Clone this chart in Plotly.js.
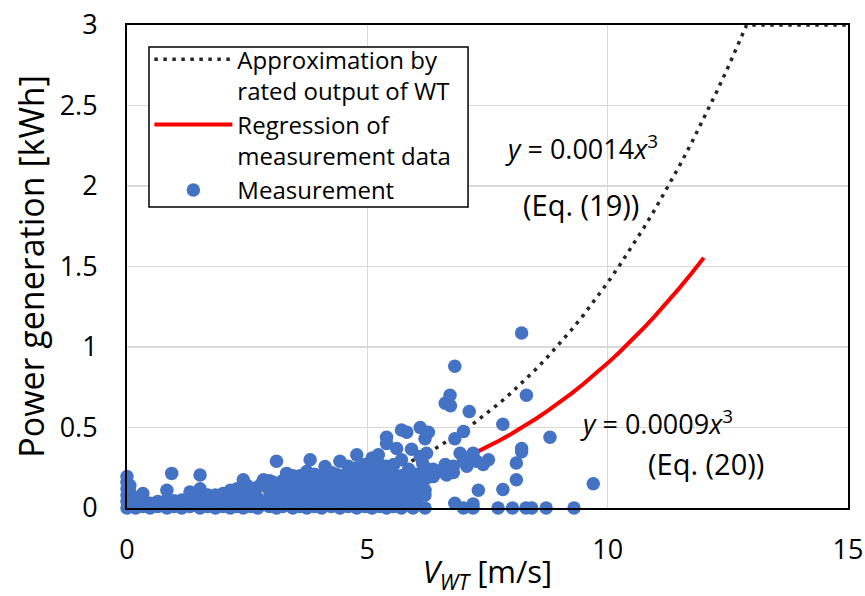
<!DOCTYPE html>
<html>
<head>
<meta charset="utf-8">
<script src="https://cdn.plot.ly/plotly-3.0.1.min.js"></script>
<style>html,body{margin:0;padding:0;background:#fff;}#chart{width:865px;height:596px;}</style>
</head>
<body>
<div id="chart"></div>
<script>
// Measured data (wind speed V_WT [m/s], power generation [kWh])
var measX = [
 0,0,0,0,0,0, 0.06,0.06,0.06,0.06, 0.18,0.18,0.18, 0.33,0.33,0.33, 0.48,0.48, 0.64,0.64,
 0.83,0.83,0.83, 0.93, 0.98,0.98, 1.14,1.14, 1.31,1.31,1.31, 1.52,1.52,1.52,1.52,
 1.68,1.68,1.68, 1.84,1.84,1.84, 2.0,2.0,2.0, 2.15,2.15,2.15, 2.29,2.29,2.29,
 2.42,2.42,2.42,2.42, 2.58,2.58,2.58, 2.72,2.72,2.72, 2.84, 2.96,2.96,2.96,2.96,
 3.11,3.11,3.11,3.11,3.11, 3.24,3.24,3.24,3.24, 3.32, 3.45,3.45,3.45,3.45,3.45,
 3.6,3.6,3.6,3.6,3.6, 3.74,3.74,3.74,3.74,3.74, 3.81, 3.9,3.9,3.9,3.9,3.9,
 4.05,4.05,4.05,4.05,4.05, 4.12, 4.25,4.25,4.25,4.25,4.25, 4.43,4.43,4.43,4.43,4.43,4.43,
 4.6,4.6,4.6,4.6,4.6,4.6, 4.78,4.78,4.78,4.78,4.78,4.78,4.78, 4.95,4.95,4.95,4.95,4.95,4.95,
 5.1,5.1,5.1,5.1,5.1,5.1,5.1, 5.23, 5.26,5.26,5.26,5.26,5.26,5.26,
 5.4,5.4,5.4,5.4,5.4,5.4,5.4,5.4, 5.55,5.55,5.55,5.55,5.55,5.55, 5.61,
 5.71,5.71,5.71,5.71,5.71,5.71,5.71, 5.82,5.82, 5.86,5.86,5.86,5.86, 5.92, 5.95,5.95,
 6.02,6.02,6.02, 6.1,6.1, 6.15,6.15, 6.2,6.2,6.2,6.2,6.2, 6.23, 6.25, 6.27, 6.37,6.37, 6.44,
 6.58, 6.62,6.62, 6.65, 6.72, 6.73, 6.79,6.79, 6.82,6.82,6.82, 6.93, 7.0,7.0,7.0, 7.07, 7.12,
 7.2,7.2,7.2, 7.27, 7.31, 7.41, 7.52, 7.72, 7.82,7.82, 8.02, 8.1,8.1, 8.21,8.21,8.21,
 8.3, 8.31, 8.42, 8.72, 8.8, 9.3, 9.7,
 0.4,0.56,0.72,0.9,1.06,1.22,1.4,1.6,1.76,1.92,2.08,2.22,2.36,2.5,2.65,2.8,2.9,3.04,3.18,3.38,
 3.52,3.67,3.83,3.98,4.18,4.35,4.52,4.7,4.87,5.03,5.18,5.33,5.48,5.64,5.78,
 2.5,2.8,3.04,3.52,3.98,4.35,4.7,5.03,5.33
];
var measY = [
 0,0.04,0.08,0.12,0.16,0.195, 0.02,0.06,0.10,0.14, 0,0.03,0.06, 0.01,0.05,0.09, 0,0.03, 0.01,0.04,
 0,0.05,0.11, 0.215, 0.01,0.045, 0,0.05, 0.01,0.05,0.10, 0,0.06,0.12,0.205,
 0.01,0.05,0.08, 0,0.04,0.08, 0.01,0.05,0.09, 0,0.06,0.11, 0.01,0.06,0.12,
 0,0.05,0.1,0.175, 0.01,0.06,0.12, 0,0.06,0.13, 0.175, 0.01,0.06,0.11,0.17,
 0,0.05,0.1,0.15,0.29, 0.01,0.06,0.11,0.17, 0.215, 0,0.05,0.1,0.15,0.2,
 0.01,0.06,0.11,0.16,0.2, 0,0.05,0.1,0.15,0.226, 0.3, 0.01,0.06,0.11,0.16,0.21,
 0,0.05,0.1,0.15,0.2, 0.257, 0.01,0.06,0.11,0.16,0.22, 0,0.05,0.1,0.15,0.2,0.29,
 0.01,0.06,0.11,0.16,0.21,0.26, 0,0.05,0.1,0.15,0.2,0.25,0.33, 0.01,0.06,0.11,0.16,0.21,0.27,
 0,0.05,0.1,0.15,0.2,0.25,0.31, 0.33, 0.01,0.06,0.11,0.16,0.22,0.27,
 0,0.05,0.1,0.15,0.2,0.26,0.4,0.44, 0.01,0.06,0.11,0.16,0.21,0.27, 0.37,
 0,0.05,0.1,0.15,0.2,0.3,0.485, 0.02,0.47, 0.06,0.13,0.19,0.24, 0.365, 0,0.1,
 0.04,0.16,0.21, 0.5,0.32, 0.15,0.28, 0.43,0.25,0.11,0.08,0, 0.34, 0.19, 0.47, 0.195,0.24, 0.22,
 0.24, 0.65,0.27, 0.205, 0.70, 0.635, 0.22,0.26, 0.88,0.43,0.03, 0.34, 0.475,0.30,0, 0.26, 0.60,
 0.34,0.025,0, 0.29, 0.11, 0.27, 0.30, 0, 0.52,0.115, 0, 0.28,0.175, 1.087,0.37,0.35,
 0, 0.70, 0, 0, 0.44, 0, 0.15,
 0.02,0.02,0.03,0.03,0.03,0.03,0.04,0.04,0.03,0.04,0.04,0.03,0.04,0.03,0.04,0.03,0.04,0.03,0.04,0.03,
 0.04,0.03,0.04,0.03,0.04,0.03,0.04,0.03,0.04,0.03,0.04,0.03,0.04,0.03,0.04,
 0.14,0.15,0.16,0.18,0.19,0.21,0.23,0.25,0.24
];
// Approximation by rated output of WT (Eq. 19)
var approxX = [5.75,6.0,6.25,6.5,6.75,7.0,7.25,7.5,7.75,8.0,8.25,8.5,8.75,9.0,9.25,9.5,9.75,10.0,
 10.25,10.5,10.75,11.0,11.25,11.5,11.75,12.0,12.25,12.5,12.75,12.89,15];
var approxY = [0.266,0.302,0.342,0.385,0.431,0.480,0.534,0.591,0.652,0.717,0.786,0.860,0.938,1.021,
 1.108,1.200,1.298,1.400,1.508,1.621,1.739,1.863,1.993,2.129,2.271,2.419,2.574,2.734,2.902,3.0,3.0];
var regX = [7.2,7.5,7.75,8.0,8.25,8.5,8.75,9.0,9.25,9.5,9.75,10,10.25,10.5,10.75,11,11.25,11.5,11.75,12];
var regY = [0.336,0.380,0.419,0.461,0.505,0.553,0.603,0.656,0.712,0.772,0.834,0.900,0.969,1.042,
 1.118,1.198,1.281,1.369,1.460,1.555];
var xTicks = [0,5,10,15];
var yTicks = [0,0.5,1,1.5,2,2.5,3];

var FONT = '"Open Sans", "Noto Sans", sans-serif';

var traces = [
 {x: approxX, y: approxY, type: 'scatter', mode: 'lines',
  name: 'Approximation by<br>rated output of WT',
  line: {color: '#262626', width: 3.5, dash: '3.5px,5.5px'}},
 {x: regX, y: regY, type: 'scatter', mode: 'lines',
  name: 'Regression of<br>measurement data',
  line: {color: '#ff0000', width: 4}},
 {x: measX, y: measY, type: 'scatter', mode: 'markers',
  name: 'Measurement',
  marker: {color: '#4472c4', size: 13.5}, cliponaxis: false}
];

var layout = {
 width: 865, height: 596,
 margin: {l: 127, r: 17, t: 25, b: 88},
 paper_bgcolor: '#fff', plot_bgcolor: '#fff',
 font: {family: FONT, color: '#000', size: 26},
 showlegend: true,
 legend: {x: 0.031, y: 0.975, xanchor: 'left', yanchor: 'top',
  bgcolor: 'rgba(0,0,0,0)', borderwidth: 0, itemwidth: 78,
  font: {family: FONT, size: 24, color: '#000'}, valign: 'top', tracegroupgap: 0},
 shapes: [
  {type: 'rect', xref: 'paper', yref: 'paper', x0: 0.0305, x1: 0.4730, y0: 0.6232, y1: 0.9545,
   fillcolor: '#fff', line: {color: '#000', width: 1.5}, layer: 'above'}
 ],
 xaxis: {range: [0, 15], tickvals: xTicks, ticktext: xTicks.map(String),
  showgrid: true, gridcolor: '#d9d9d9', gridwidth: 1.5, zeroline: false,
  showline: true, linecolor: '#000', linewidth: 2, mirror: true, ticks: '',
  ticklabelstandoff: 17,
  tickfont: {family: FONT, size: 27, color: '#000'},
  title: {text: '<i>V</i><sub><i>WT</i></sub> [m/s]', font: {family: FONT, size: 31, color: '#000'}, standoff: 1}},
 yaxis: {range: [0, 3], tickvals: yTicks, ticktext: yTicks.map(String),
  showgrid: true, gridcolor: '#d9d9d9', gridwidth: 1.5, zeroline: false,
  showline: true, linecolor: '#000', linewidth: 2, mirror: true, ticks: '',
  ticklabelstandoff: 22,
  tickfont: {family: FONT, size: 27, color: '#000'},
  title: {text: 'Power generation [kWh]', font: {family: FONT, size: 34, color: '#000'}, standoff: 5}},
 annotations: [
  {x: 7.82, y: 2.24, xref: 'x', yref: 'y', xanchor: 'left', showarrow: false, text: '<i>y</i> = 0.0014<i>x</i><sup>3</sup>', font: {family: FONT, size: 27, color: '#000'}},
  {x: 9.44, y: 1.886, xref: 'x', yref: 'y', showarrow: false, text: '(Eq. (19))', font: {family: FONT, size: 29, color: '#000'}},
  {x: 9.38, y: 0.53, xref: 'x', yref: 'y', xanchor: 'left', showarrow: false, text: '<i>y</i> = 0.0009<i>x</i><sup>3</sup>', font: {family: FONT, size: 27, color: '#000'}},
  {x: 12.05, y: 0.275, xref: 'x', yref: 'y', showarrow: false, text: '(Eq. (20))', font: {family: FONT, size: 29, color: '#000'}}
 ]
};

Plotly.newPlot('chart', traces, layout, {staticPlot: true, displayModeBar: false});
</script>
</body>
</html>
